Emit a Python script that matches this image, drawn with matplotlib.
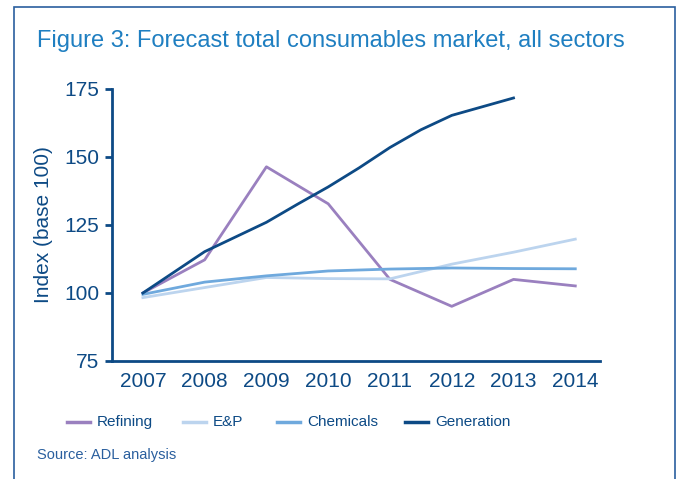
import matplotlib
matplotlib.use("Agg")
import matplotlib.pyplot as plt
from matplotlib.lines import Line2D
from matplotlib.patches import Rectangle

plt.rcParams['font.family'] = ['Liberation Sans', 'DejaVu Sans']

years = [2007, 2008, 2009, 2010, 2011, 2012, 2013, 2014]
refining = [100, 112.2, 146.4, 132.8, 105.0, 95.1, 105.0, 102.6]
ep = [98.3, 102.0, 105.7, 105.3, 105.2, 110.6, 115.0, 119.8]
chemicals = [99.5, 104.0, 106.3, 108.1, 108.8, 109.2, 109.0, 108.9]
gen_x = [2007, 2008, 2009, 2009.5, 2010, 2010.5, 2011, 2011.5, 2012, 2013]
generation = [100, 115.2, 126.0, 132.6, 139.0, 146.0, 153.5, 160.0, 165.3, 171.7]
yticks = [75, 100, 125, 150, 175]

navy = '#0d4a85'
c_ref = '#9a80bf'
c_ep = '#bcd4ee'
c_chem = '#6fa9dd'
c_gen = '#0d4a85'

fig = plt.figure(figsize=(6.85, 4.79), dpi=100)
fig.patches.append(Rectangle((14/685, -0.1), (675-14)/685, 1.1 - 7/479,
                             transform=fig.transFigure, fill=False,
                             edgecolor='#2a5f9e', linewidth=1.2))
ax = fig.add_axes([112/685, 1-361/479, (600-112)/685, (361-89)/479])

lw = 2.0
ax.plot(years, refining, color=c_ref, lw=lw, label='Refining')
ax.plot(years, ep, color=c_ep, lw=lw, label='E&P')
ax.plot(years, chemicals, color=c_chem, lw=lw, label='Chemicals')
ax.plot(gen_x, generation, color=c_gen, lw=lw, label='Generation')

ax.set_xlim(2006.5, 2014.4)
ax.set_ylim(75, 175)
ax.set_yticks(yticks)
ax.set_xticks(years)
ax.set_xticklabels([str(y) for y in years])
for s in ['top', 'right']:
    ax.spines[s].set_visible(False)
for s in ['left', 'bottom']:
    ax.spines[s].set_color(navy)
    ax.spines[s].set_linewidth(2)
ax.tick_params(axis='y', colors=navy, labelsize=15, length=5, width=2, pad=4)
ax.tick_params(axis='x', colors=navy, labelsize=15, length=0, pad=8)
ax.set_ylabel('Index (base 100)', color=navy, fontsize=15, labelpad=8)

fig.text(37/685, 1-41/479, 'Figure 3: Forecast total consumables market, all sectors',
         color='#1f7fc1', fontsize=17, va='center', ha='left')

colors = [c_ref, c_ep, c_chem, c_gen]
labels = ['Refining', 'E&P', 'Chemicals', 'Generation']
xs = [67, 183, 277, 405]
for c, l, x in zip(colors, labels, xs):
    fig.lines.append(Line2D([x/685, (x+23)/685], [1-422/479, 1-422/479],
                            transform=fig.transFigure, color=c, lw=2.5))
    fig.text((x+30)/685, 1-422/479, l, color=navy, fontsize=11, va='center', ha='left')

fig.text(37/685, 1-455/479, 'Source: ADL analysis', color='#2a5f9e', fontsize=10.5,
         va='center', ha='left')

fig.savefig('out.png', dpi=100)
